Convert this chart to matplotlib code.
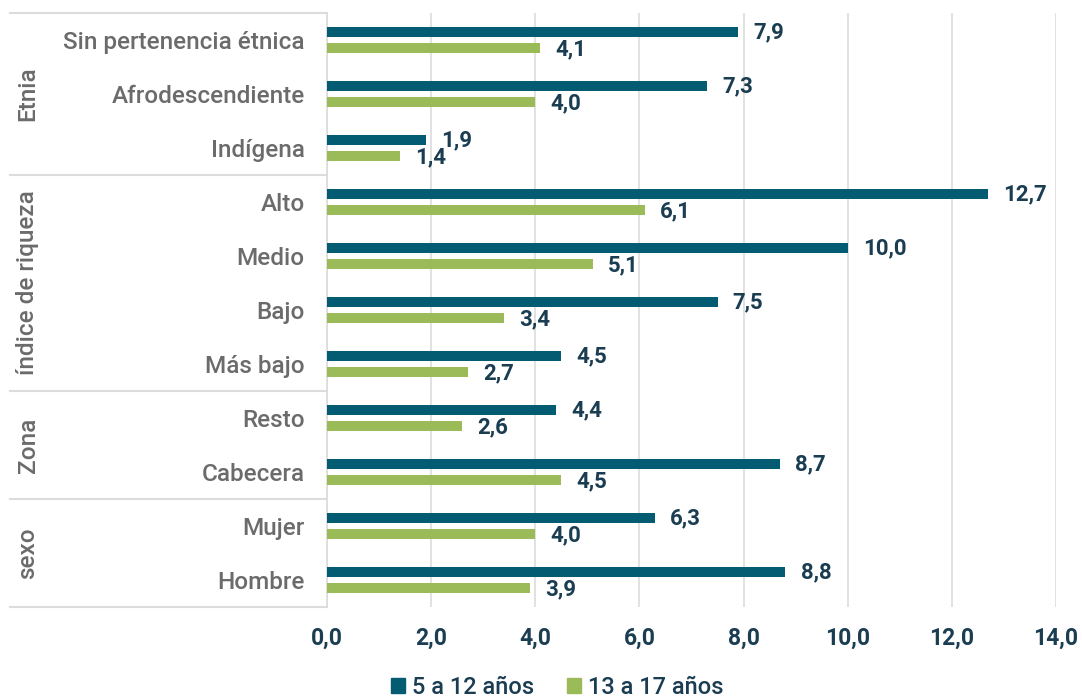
import matplotlib
matplotlib.use("Agg")
import matplotlib.pyplot as plt
from matplotlib.transforms import blended_transform_factory
from matplotlib.patches import Patch

categories = ["Sin pertenencia étnica", "Afrodescendiente", "Indígena",
              "Alto", "Medio", "Bajo", "Más bajo",
              "Resto", "Cabecera",
              "Mujer", "Hombre"]
serie_5_12 = [7.9, 7.3, 1.9, 12.7, 10.0, 7.5, 4.5, 4.4, 8.7, 6.3, 8.8]
serie_13_17 = [4.1, 4.0, 1.4, 6.1, 5.1, 3.4, 2.7, 2.6, 4.5, 4.0, 3.9]
series_names = ["5 a 12 años", "13 a 17 años"]
groups = [("Etnia", 0, 2), ("índice de riqueza", 3, 6), ("Zona", 7, 8), ("sexo", 9, 10)]
xticks = [0, 2, 4, 6, 8, 10, 12, 14]

C_BLUE = "#045c73"
C_GREEN = "#9bbb59"
C_TXT = "#1a3d52"
C_CAT = "#6b6b6b"
C_GRID = "#dcdcdc"

plt.rcParams['font.family'] = ['Roboto', 'DejaVu Sans']

fig = plt.figure(figsize=(10.82, 6.99), dpi=100)
ax = fig.add_axes([327/1082, 1-607/699, (1056-327)/1082, (607-13)/699])

y = list(range(len(categories)))
h = 0.175
off = 0.148
yb = [v - off for v in y]
yg = [v + off for v in y]
ax.barh(yb, serie_5_12, height=h, color=C_BLUE, zorder=3)
ax.barh(yg, serie_13_17, height=h, color=C_GREEN, zorder=3)

def fmt(v):
    return f"{v:.1f}".replace(".", ",")

for yy, v in zip(yb, serie_5_12):
    ax.annotate(fmt(v), (v, yy), xytext=(11, 0), textcoords="offset points",
                ha="left", va="center", fontsize=16, fontweight="bold", color=C_TXT)
for yy, v in zip(yg, serie_13_17):
    ax.annotate(fmt(v), (v, yy), xytext=(11, -1), textcoords="offset points",
                ha="left", va="center", fontsize=16, fontweight="bold", color=C_TXT)

ax.set_xlim(0, 14)
ax.set_ylim(len(categories) - 0.5, -0.5)
ax.set_xticks(xticks)
ax.set_xticklabels([fmt(t) for t in xticks], fontsize=16.5, fontweight="bold", color=C_TXT)
ax.tick_params(axis="x", length=0, pad=14)
ax.set_yticks(y)
ax.set_yticklabels(categories, fontsize=17.5, fontweight="medium", color=C_CAT)
ax.tick_params(axis="y", length=0, pad=16)
ax.grid(axis="x", color=C_GRID, linewidth=1.2, zorder=0)
for s in ["top", "right", "bottom"]:
    ax.spines[s].set_visible(False)
ax.spines["left"].set_color(C_GRID)
ax.spines["left"].set_linewidth(1.2)

tr = blended_transform_factory(ax.transAxes, ax.transData)
x0 = (10 - 327) / 729
bounds = [-0.5, 2.5, 6.5, 8.5, 10.5]
for b in bounds:
    ax.plot([x0, 0], [b, b], transform=tr, color=C_GRID, lw=1.5, clip_on=False, zorder=1)
gx = (28 - 327) / 729
for name, a, bnd in groups:
    ax.text(gx, (a + bnd) / 2, name, transform=tr, rotation=90, ha="center", va="center",
            fontsize=17.5, fontweight="medium", color=C_CAT)

handles = [Patch(color=C_BLUE), Patch(color=C_GREEN)]
leg = fig.legend(handles, series_names, loc="center", bbox_to_anchor=(0.515, 0.016), ncol=2,
                 frameon=False, handlelength=0.6, handleheight=0.6, handletextpad=0.3,
                 columnspacing=1.4, prop={"size": 17, "weight": "medium"})
for t in leg.get_texts():
    t.set_color(C_TXT)

fig.savefig("out.png", dpi=100)
